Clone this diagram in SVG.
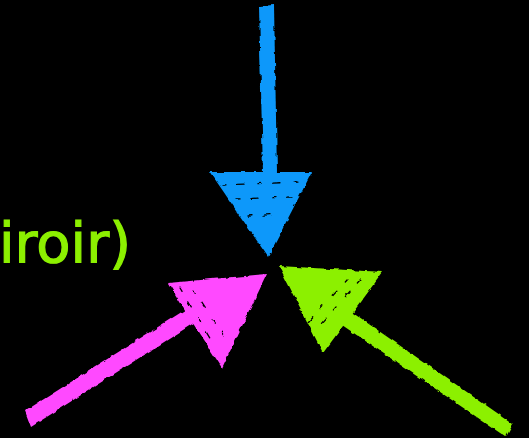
<svg xmlns="http://www.w3.org/2000/svg" width="529" height="438" viewBox="0 0 529 438">
<style>
.lbl{font-family:"DejaVu Sans","Noto Sans",sans-serif;font-size:56px;fill:#8cf000;stroke:#8cf000;stroke-width:1.2}
.blue{fill:#0a98fa}
.mag{fill:#ff48ff}
.grn{fill:#8cf000}
.tex{stroke:#000;stroke-width:1.3;stroke-linecap:round;fill:none;stroke-dasharray:4 11 7 14}
</style>
<defs>
<filter id="rough" x="-10%" y="-10%" width="120%" height="120%">
<feTurbulence type="fractalNoise" baseFrequency="0.12" numOctaves="2" seed="3" result="n"/>
<feDisplacementMap in="SourceGraphic" in2="n" scale="4" xChannelSelector="R" yChannelSelector="G"/>
</filter>
</defs>
<rect width="529" height="438" fill="#000"/>
<g id="label">
<text class="lbl" x="-1" y="262">iroir)</text>
</g>
<g id="connectors" filter="url(#rough)">
<g id="arrow-blue">
<polygon class="blue" points="259,6 274,5 277,174 263,174"/>
<polygon class="blue" points="210,172 312,172 268,257"/>
<path class="tex" d="M222,185 L300,182 M236,199 L292,197 M248,216 L280,214"/>
</g>
<g id="arrow-magenta">
<polygon class="mag" points="25,411 188,308 197,321 31,427"/>
<polygon class="mag" points="168,283 267,274 222,368"/>
<path class="tex" d="M180,288 L214,345 M193,290 L224,336"/>
</g>
<g id="arrow-green">
<polygon class="grn" points="350,311 513,424 506,437 342,325"/>
<polygon class="grn" points="279,266 383,272 323,353"/>
<path class="tex" d="M360,280 L320,325 M347,279 L308,322"/>
</g>
</g>
</svg>
